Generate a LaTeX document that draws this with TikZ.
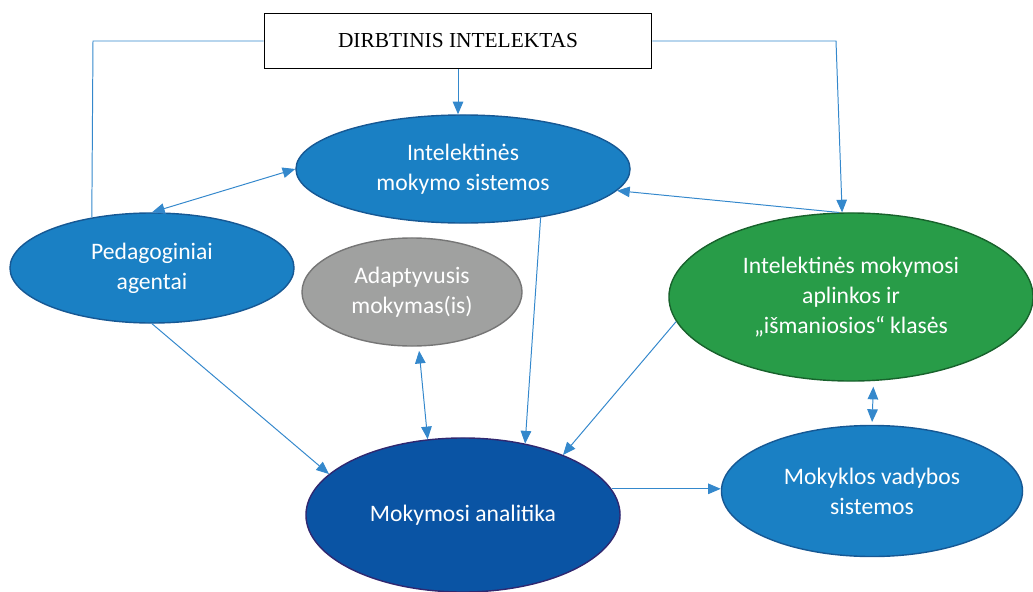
\documentclass[tikz,border=0pt]{standalone}
\usepackage{fontspec}
\setmainfont{Carlito}
\newfontfamily\serifbox{Liberation Serif}
\usetikzlibrary{shapes.geometric,arrows.meta}

\definecolor{linkblue}{RGB}{52,136,204}
\definecolor{midblue}{RGB}{26,128,196}
\definecolor{midblueedge}{RGB}{22,88,148}
\definecolor{darkblue}{RGB}{10,84,164}
\definecolor{darkblueedge}{RGB}{48,40,112}
\definecolor{greyfill}{RGB}{160,161,160}
\definecolor{greyedge}{RGB}{118,118,118}
\definecolor{greenfill}{RGB}{40,156,72}
\definecolor{greenedge}{RGB}{24,98,44}

\begin{document}
\begin{tikzpicture}[x=0.025cm,y=-0.025cm,
    blob/.style={ellipse, draw, line width=1pt, inner sep=0pt, align=center,
                 text=white, font=\fontsize{16.8}{21.5}\selectfont},
    arr/.style={draw=linkblue, line width=0.7pt, -{Triangle[length=9pt,width=7.5pt]}},
    both/.style={arr, {Triangle[length=9pt,width=7.5pt]}-{Triangle[length=9pt,width=7.5pt]}}]
                      \useasboundingbox (0,0) rectangle (1033,592);

                      \node[draw, line width=1.2pt, minimum width=9.675cm, minimum height=1.375cm, fill=white,
                            font=\serifbox\fontsize{15.2}{18}\selectfont] (di) at (458,41) {DIRBTINIS INTELEKTAS};
                      \node[blob, fill=midblue, draw=midblueedge, minimum width=8.35cm, minimum height=2.7cm] (ims) at (463,169) {Intelektinės\\mokymo sistemos};
                      \node[blob, fill=midblue, draw=midblueedge, minimum width=7.1cm, minimum height=2.75cm] (ped) at (152,268) {Pedagoginiai\\agentai};
                      \node[blob, fill=greyfill, draw=greyedge, minimum width=5.5cm, minimum height=2.7cm] (adapt) at (412,292) {Adaptyvusis\\mokymas(is)};
                      \node[blob, fill=greenfill, draw=greenedge, minimum width=9.1cm, minimum height=4.2cm] (env) at (851,297) {Intelektinės mokymosi\\aplinkos ir\\„išmaniosios“ klasės};
                      \node[blob, fill=darkblue, draw=darkblueedge, minimum width=7.85cm, minimum height=3.85cm] (ma) at (463,515) {Mokymosi analitika};
                      \node[blob, fill=midblue, draw=midblueedge, minimum width=7.525cm, minimum height=3.275cm] (mvs) at (872,491) {Mokyklos vadybos\\sistemos};
                      \coordinate (bendl) at (93,41);
                      \coordinate (bendr) at (836,41);

                      \draw[draw=linkblue, line width=0.7pt] (di.west) -- (bendl) -- (ped.140);
                      \draw[arr] (di.south) -- (di.south |- ims.north);
                      \draw[arr] (di.east) -- (bendr) -- (env.96);
                      \draw[both] (ped.north) -- (ims.west);
                      \draw[arr] (env.98) -- (ims.-8);
                      \draw[arr] (ims.-32) -- (ma.49);
                      \draw[arr] (ped.south) -- (ma.163);
                      \draw[both, shorten <=3pt] (adapt.-83) -- (ma.115);
                      \draw[arr] (env.188) -- (ma.31);
                      \draw[both, shorten <=4pt, shorten >=2pt] (env.-75) -- (mvs.north);
                      \draw[arr] (ma.10) -- (ma.10 -| mvs.west);
                  \end{tikzpicture}
\end{document}
